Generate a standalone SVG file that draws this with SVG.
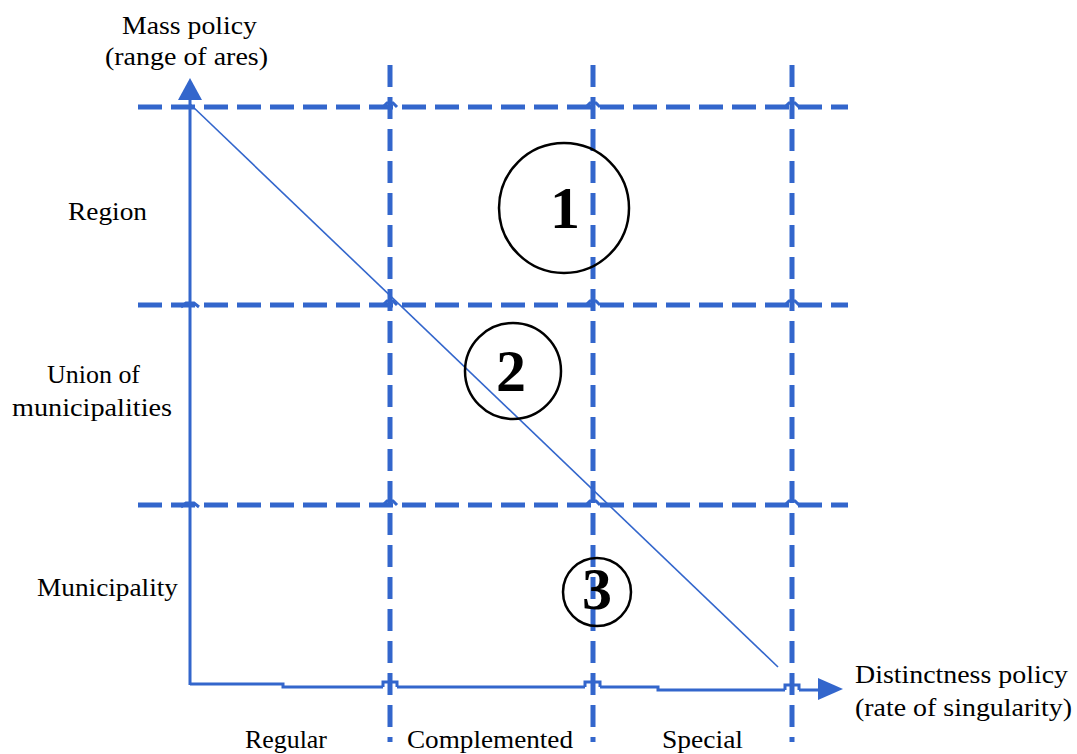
<svg xmlns="http://www.w3.org/2000/svg" width="1077" height="754" viewBox="0 0 1077 754">
<defs>
<style>
.t{font-family:"Liberation Serif","Times New Roman",serif;font-size:25px;fill:#000}
.d{stroke:#3366cc;stroke-width:5;fill:none;stroke-dasharray:24 9}
.dv{stroke:#3366cc;stroke-width:5;fill:none;stroke-dasharray:22 10}
.ax{stroke:#3366cc;stroke-width:3;fill:none}
.hop{stroke:#3366cc;stroke-width:3;fill:none}
.c{fill:none;stroke:#000;stroke-width:2.5}
.n{font-family:"Liberation Serif","Times New Roman",serif;font-size:60px;font-weight:bold;fill:#000;text-anchor:middle}
</style>
</defs>
<rect width="1077" height="754" fill="#ffffff"/>
<g id="grid">
<line class="d" x1="138" y1="107" x2="848" y2="107"/>
<line class="d" x1="138" y1="305" x2="848" y2="305"/>
<line class="d" x1="138" y1="505" x2="848" y2="505"/>
<line class="dv" x1="390" y1="65" x2="390" y2="742"/>
<line class="dv" x1="593" y1="65" x2="593" y2="742"/>
<line class="dv" x1="792" y1="65" x2="792" y2="742"/>
</g>
<g id="connectors">
<path class="ax" d="M190,685 V98"/>
<polygon points="190,78 178,100 202,100" fill="#3366cc"/>
<path class="ax" d="M190,684 H283 V687 H383 M397,687 H585 M600,687 H658 V690 H785 M799,690 H822"/>
<path class="hop" d="M383,687 v-5 h14 v5 M585,687 v-5 h15 v5 M785,690 v-5 h14 v5"/>
<polygon points="843,689 818,678 818,700" fill="#3366cc"/>
<line x1="190" y1="104" x2="778" y2="667" stroke="#3366cc" stroke-width="1.6"/>
<path class="hop" d="M181,307 l5,-4 h8 l5,4 M181,507 l5,-4 h8 l5,4 M383,107 l4,-4 h6 l4,4 M586,107 l4,-4 h6 l4,4 M785,107 l4,-4 h6 l4,4 M383,505 l4,-4 h6 l4,4 M586,505 l4,-4 h6 l4,4 M785,505 l4,-4 h6 l4,4 M383,305 l4,-4 h6 l4,4 M586,305 l4,-4 h6 l4,4 M785,305 l4,-4 h6 l4,4"/>
</g>
<g id="zone1"><circle class="c" cx="564" cy="208" r="65"/><text class="n" x="565" y="228">1</text></g>
<g id="zone2"><circle class="c" cx="513" cy="371" r="48"/><text class="n" x="511" y="391">2</text></g>
<g id="zone3"><circle class="c" cx="597" cy="592" r="34"/><text class="n" x="597" y="609">3</text></g>
<g id="ylabel">
<text class="t" x="122" y="34" textLength="135" lengthAdjust="spacingAndGlyphs">Mass policy</text>
<text class="t" x="105" y="65" textLength="163" lengthAdjust="spacingAndGlyphs">(range of ares)</text>
</g>
<g id="xlabel">
<text class="t" x="855" y="683" textLength="213" lengthAdjust="spacingAndGlyphs">Distinctness policy</text>
<text class="t" x="855" y="716" textLength="217" lengthAdjust="spacingAndGlyphs">(rate of singularity)</text>
</g>
<g id="rows">
<text class="t" x="68" y="220" textLength="79" lengthAdjust="spacingAndGlyphs">Region</text>
<text class="t" x="47" y="383" textLength="93" lengthAdjust="spacingAndGlyphs">Union of</text>
<text class="t" x="12" y="416" textLength="160" lengthAdjust="spacingAndGlyphs">municipalities</text>
<text class="t" x="37" y="596" textLength="141" lengthAdjust="spacingAndGlyphs">Municipality</text>
</g>
<g id="cols">
<text class="t" x="245" y="748" textLength="82" lengthAdjust="spacingAndGlyphs">Regular</text>
<text class="t" x="407" y="748" textLength="166" lengthAdjust="spacingAndGlyphs">Complemented</text>
<text class="t" x="662" y="748" textLength="81" lengthAdjust="spacingAndGlyphs">Special</text>
</g>
</svg>
